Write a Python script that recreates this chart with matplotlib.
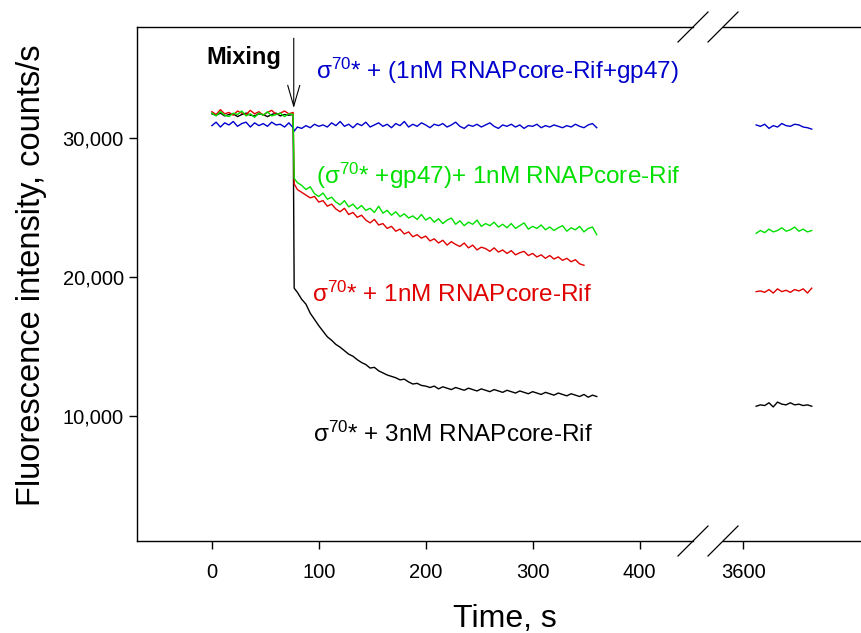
import matplotlib
matplotlib.use("Agg")
import matplotlib.pyplot as plt
from matplotlib.lines import Line2D
from matplotlib.ticker import FuncFormatter

plt.rcParams['font.family'] = ['Liberation Sans', 'DejaVu Sans']
plt.rcParams['mathtext.fontset'] = 'custom'
plt.rcParams['mathtext.rm'] = 'Liberation Sans'
plt.rcParams['mathtext.it'] = 'Liberation Sans:italic'

# colors
BLUE = '#0000cc'
GREEN = '#00e000'
RED = '#e00000'
BLACK = 'black'

# time before mixing (s)
t_pre = [0, 4, 8, 12, 16, 20, 24, 28, 32, 36, 40, 44, 48, 52, 56, 60, 64, 68, 72, 76]
# time after mixing (s), 8 per row
t_post = [77, 80, 84, 88, 92, 96, 100, 104,
          108, 112, 116, 120, 124, 128, 132, 136,
          140, 144, 148, 152, 156, 160, 164, 168,
          172, 176, 180, 184, 188, 192, 196, 200,
          204, 208, 212, 216, 220, 224, 228, 232,
          236, 240, 244, 248, 252, 256, 260, 264,
          268, 272, 276, 280, 284, 288, 292, 296,
          300, 304, 308, 312, 316, 320, 324, 328,
          332, 336, 340, 344, 348, 352, 356, 360]
# time of the late readings (s)
t_late = [3612, 3616, 3620, 3624, 3628, 3632, 3636, 3640, 3644, 3648, 3652, 3656, 3660, 3664]

blue_pre = [30900, 31150, 30800, 31100, 30950, 31200, 30850, 31050, 31150, 30800,
            31100, 30900, 31050, 30850, 31150, 30950, 31000, 30800, 31100, 30750]
green_pre = [31800, 31600, 31900, 31650, 31550, 31800, 31700, 31950, 31600, 31750,
             31500, 31800, 31650, 31900, 31600, 31700, 31800, 31550, 31750, 31700]
red_pre = [31900, 31700, 32050, 31750, 31850, 31650, 31950, 31800, 31700, 32000,
           31750, 31900, 31650, 31850, 32000, 31700, 31800, 31950, 31750, 31850]
black_pre = [31750, 31650, 31800, 31600, 31700, 31750, 31550, 31700, 31800, 31650,
             31600, 31750, 31700, 31550, 31700, 31800, 31600, 31700, 31650, 31700]

blue_post = [30500, 30800, 30700, 30900, 30750, 31000, 30850, 30950,
             30800, 31100, 30900, 31200, 30850, 31000, 30750, 31050,
             30900, 31150, 30800, 30950, 31100, 30850, 31000, 30750,
             31050, 30900, 31200, 30800, 31000, 30850, 31100, 30950,
             30750, 31000, 30900, 31050, 30800, 30950, 31150, 30850,
             30700, 30950, 30850, 31000, 30800, 30950, 31100, 30850,
             30700, 30950, 30850, 31000, 30800, 30950, 30700, 30900,
             30850, 31000, 30750, 30900, 30800, 30950, 30850, 30750,
             30900, 30800, 31000, 30850, 30750, 30950, 31050, 30750]
green_post = [27100, 26800, 26600, 26300, 26500, 26000, 25800, 26050,
              25600, 25750, 25400, 25200, 25500, 25050, 25250, 24900,
              25150, 24800, 24950, 24650, 25100, 24600, 24800, 24450,
              24700, 24350, 24550, 24250, 24400, 24150, 24500, 24100,
              24300, 23950, 24200, 23850, 24100, 24250, 23800, 24050,
              23700, 23950, 23800, 24100, 23650, 23850, 23700, 23950,
              23600, 23800, 23550, 23850, 23500, 23700, 23900, 23450,
              23650, 23500, 23750, 23400, 23600, 23350, 23550, 23700,
              23300, 23550, 23400, 23650, 23250, 23500, 23600, 23050]
red_post = [26700, 26300, 26100, 25900, 25700, 25800, 25400, 25500,
            25100, 25250, 24900, 24700, 24950, 24500, 24650, 24300,
            24450, 24100, 23900, 24150, 23750, 23850, 23500, 23650,
            23300, 23450, 23100, 23250, 22900, 23050, 22800, 22950,
            22600, 22750, 22450, 22650, 22300, 22550, 22350, 22200,
            22450, 22100, 22300, 21950, 22150, 22050, 21850, 22100,
            21800, 21950, 21700, 21900, 21600, 21750, 21850, 21550,
            21700, 21450, 21600, 21350, 21550, 21300, 21450, 21200,
            21350, 21100, 21250, 20950, 20850]
black_post = [19200, 18900, 18400, 18050, 17400, 16950, 16500, 16100,
              15700, 15450, 15150, 14950, 14700, 14450, 14300, 14050,
              13850, 13700, 13450, 13500, 13250, 13100, 12950, 12850,
              12750, 12600, 12650, 12450, 12300, 12350, 12200, 12150,
              12050, 12150, 11950, 12100, 12000, 11900, 12050, 11950,
              11850, 12000, 11900, 11800, 11950, 11850, 11750, 11900,
              11800, 11700, 11850, 11750, 11650, 11800, 11700, 11600,
              11750, 11650, 11550, 11700, 11600, 11500, 11650, 11550,
              11450, 11600, 11500, 11400, 11550, 11350, 11500, 11400]

blue_late = [30950, 30850, 31000, 30700, 30900, 30800, 31050, 30900, 30850, 31000, 30950, 30800, 30750, 30650]
green_late = [23150, 23350, 23200, 23450, 23250, 23350, 23550, 23300, 23400, 23600, 23300, 23450, 23250, 23350]
red_late = [18950, 19000, 18900, 19100, 18850, 19150, 18950, 19050, 18900, 19100, 19000, 19150, 18850, 19200]
black_late = [10700, 10800, 10750, 10950, 10650, 11000, 10850, 10800, 10950, 10800, 10850, 10750, 10800, 10700]

series = [
    (black_pre, black_post, black_late, BLACK),
    (red_pre, red_post, red_late, RED),
    (blue_pre, blue_post, blue_late, BLUE),
    (green_pre, green_post, green_late, GREEN),
]

W, H = 862, 633
fig = plt.figure(figsize=(W / 100, H / 100), dpi=100)

# px positions of the frame
x_left, x_brk1, x_brk2, x_right = 137, 693, 723, 862
y_top, y_bot = 27, 541

ax = fig.add_axes([x_left / W, 1 - y_bot / H, (x_brk1 - x_left) / W, (y_bot - y_top) / H])
ax2 = fig.add_axes([x_brk2 / W, 1 - y_bot / H, (x_right - x_brk2) / W, (y_bot - y_top) / H], sharey=ax)

for pre, post, late, c in series:
    t = t_pre + t_post[:len(post)]
    ax.plot(t, pre + post, color=c, lw=1.0)
    ax2.plot(t_late, late, color=c, lw=1.0)

ax.set_xlim(-70, 450)
ax2.set_xlim(3581, 3711)
ax.set_ylim(1000, 38000)

ax.set_xticks([0, 100, 200, 300, 400])
ax2.set_xticks([3600])
ax.set_yticks([10000, 20000, 30000])
ax.yaxis.set_major_formatter(FuncFormatter(lambda v, p: '{:,.0f}'.format(v)))

for a in (ax, ax2):
    a.tick_params(direction='out', length=5.5, width=1.0, labelsize=14.5, pad=10)
    for s in a.spines.values():
        s.set_linewidth(1.0)
ax.tick_params(axis='y', pad=4)
ax.spines['right'].set_visible(False)
ax2.spines['left'].set_visible(False)
ax2.spines['right'].set_visible(False)
ax2.tick_params(axis='y', left=False, labelleft=False)

# break marks
for xb in (x_brk1, x_brk2):
    for yb in (y_top, y_bot):
        fig.add_artist(Line2D([(xb - 15) / W, (xb + 15) / W], [1 - (yb + 15) / H, 1 - (yb - 15) / H],
                              transform=fig.transFigure, color='black', lw=0.9))

# labels
ax.set_ylabel('Fluorescence intensity, counts/s', fontsize=23.5)
ax.yaxis.set_label_coords(-0.162, 0.5175)
fig.text(505 / W, (H - 627) / H, 'Time, s', fontsize=23, ha='center', va='baseline')

# mixing arrow
ax.text(-4.7, 35320, 'Mixing', fontsize=17, fontweight='bold', ha='left', va='baseline')
ax.annotate('', xy=(76.6, 32160), xytext=(76.6, 37190),
            arrowprops=dict(arrowstyle='->,head_length=1.0,head_width=0.29', mutation_scale=15,
                            lw=0.8, color='black', shrinkA=0, shrinkB=0))

# curve labels
ax.text(97, 34295, r'σ$^{70}$* + (1nM RNAPcore-Rif+gp47)', color=BLUE, fontsize=17.5, va='baseline')
ax.text(97, 26690, r'(σ$^{70}$* +gp47)+ 1nM RNAPcore-Rif', color=GREEN, fontsize=17.5, va='baseline')
ax.text(93.5, 18222, r'σ$^{70}$* + 1nM RNAPcore-Rif', color=RED, fontsize=17.5, va='baseline')
ax.text(95, 8150, r'σ$^{70}$* + 3nM RNAPcore-Rif', color=BLACK, fontsize=17.5, va='baseline')

fig.savefig('out.png', dpi=100)
